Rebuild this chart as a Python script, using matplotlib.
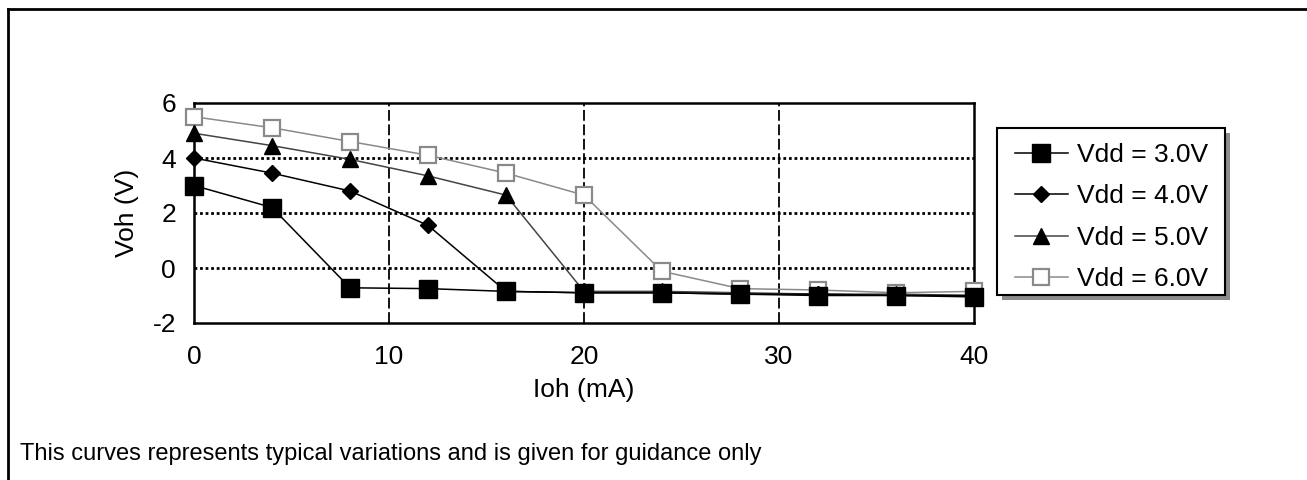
import numpy as np
import matplotlib.pyplot as plt
from matplotlib.lines import Line2D
from matplotlib.patches import Rectangle

plt.rcParams['font.family'] = ['Liberation Sans', 'DejaVu Sans']
plt.rcParams['axes.unicode_minus'] = False

# Ioh (mA)
ioh = [0, 4, 8, 12, 16, 20, 24, 28, 32, 36, 40]
# Voh (V) for each supply
voh_3v = [3.0, 2.2, -0.72, -0.75, -0.85, -0.9, -0.9, -0.95, -1.0, -1.0, -1.05]
voh_4v = [4.0, 3.45, 2.8, 1.55, -0.85, -0.9, -0.9, -0.95, -0.95, -1.0, -1.0]
voh_5v = [4.9, 4.45, 3.95, 3.35, 2.65, -0.85, -0.85, -0.9, -0.95, -0.95, -1.0]
voh_6v = [5.5, 5.1, 4.6, 4.1, 3.45, 2.65, -0.12, -0.75, -0.8, -0.9, -0.85]
labels = ['Vdd = 3.0V', 'Vdd = 4.0V', 'Vdd = 5.0V', 'Vdd = 6.0V']

W, H = 1307, 480
fig = plt.figure(figsize=(W / 100, H / 100), dpi=100)

# outer frame (top and left edges visible)
fig.add_artist(Line2D([8 / W, 8 / W], [0, 1 - 9 / H], transform=fig.transFigure, color='black', lw=2))
fig.add_artist(Line2D([8 / W, 1], [1 - 9 / H, 1 - 9 / H], transform=fig.transFigure, color='black', lw=2))

ax = fig.add_axes([194 / W, 1 - 323 / H, 780 / W, 220 / H])

fs = 19
ax.plot(ioh, voh_6v, color='#8a8a8a', lw=1.1, marker='s', ms=11, mfc='white', mec='#8a8a8a', mew=1.6,
        label=labels[3], zorder=3, clip_on=False)
ax.plot(ioh, voh_5v, color='#444444', lw=1.1, marker='^', ms=11, mfc='black', mec='black',
        label=labels[2], zorder=4, clip_on=False)
ax.plot(ioh, voh_4v, color='black', lw=1.1, marker='D', ms=8.5, mfc='black', mec='black',
        label=labels[1], zorder=5, clip_on=False)
ax.plot(ioh, voh_3v, color='black', lw=1.1, marker='s', ms=12.5, mfc='black', mec='black',
        label=labels[0], zorder=6, clip_on=False)

ax.set_xlim(0, 40)
ax.set_ylim(-2, 6)
ax.set_xticks([0, 10, 20, 30, 40])
ax.set_yticks([-2, 0, 2, 4, 6])
ax.tick_params(axis='x', length=0, labelsize=fs, pad=16)
ax.tick_params(axis='y', length=0, labelsize=fs, pad=13)

for y in [0, 2, 4]:
    ax.axhline(y, color='black', lw=2, ls=(0, (1, 1)), zorder=1)
for x in [10, 20, 30]:
    ax.axvline(x, color='black', lw=1.3, ls=(0, (6, 2)), zorder=1)

for s in ax.spines.values():
    s.set_linewidth(1.8)

ax.set_xlabel('Ioh (mA)', fontsize=fs, labelpad=6)
ax.set_ylabel('Voh (V)', fontsize=fs)
ax.yaxis.set_label_coords(-55 / 780, 0.5)

# legend box with shadow, drawn by hand so the padding matches
x0, y0, x1, y1 = 997, 128, 1225, 295
fig.add_artist(Rectangle(((x0 + 5) / W, 1 - (y1 + 5) / H), (x1 - x0) / W, (y1 - y0) / H,
                         transform=fig.transFigure, facecolor='#8c8c8c', edgecolor='none', zorder=8))
fig.add_artist(Rectangle((x0 / W, 1 - y1 / H), (x1 - x0) / W, (y1 - y0) / H,
                         transform=fig.transFigure, facecolor='white', edgecolor='black', lw=1.5, zorder=9))

handles, lab = ax.get_legend_handles_labels()
leg = fig.legend(handles[::-1], lab[::-1], loc='upper left', bbox_to_anchor=(1015 / W, 1 - 143 / H),
                 fontsize=fs, frameon=False, handlelength=2.0, labelspacing=0.66, borderpad=0,
                 handletextpad=0.35, borderaxespad=0)
leg.set_zorder(10)

fig.text(20 / W, 1 - 460 / H, 'This curves represents typical variations and is given for guidance only',
         fontsize=17, va='baseline', ha='left')

fig.savefig('out.png', dpi=100)
